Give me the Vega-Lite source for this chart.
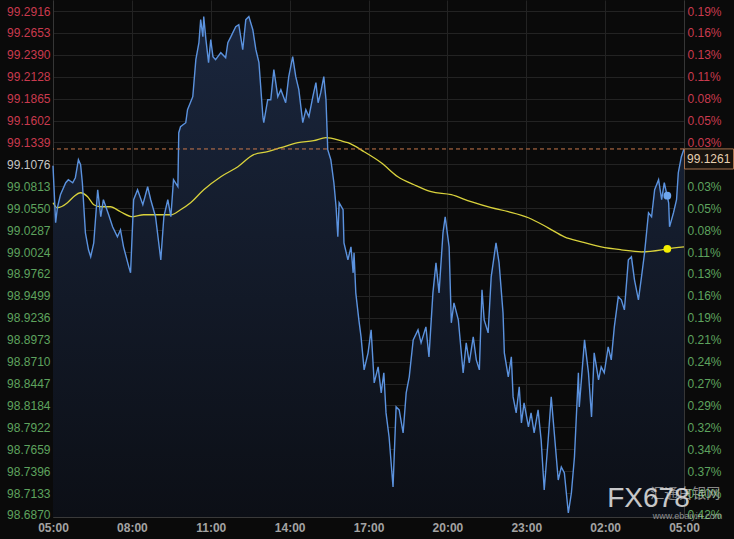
{
  "$schema": "https://vega.github.io/schema/vega-lite/v6.json",
  "width": 631,
  "height": 517,
  "autosize": {"type": "none"},
  "padding": {"left": 53, "top": 0, "right": 50, "bottom": 22},
  "background": "#0a0a0a",
  "config": {
    "view": {"stroke": null},
    "axis": {"labelFont": "Liberation Sans", "labelFontSize": 12, "ticks": false, "domainColor": "#363636", "gridColor": "#232323", "gridWidth": 1, "labelOverlap": false}
  },
  "datasets": {
    "price": [
      {"t":"2024-01-01T05:00Z","v":99.1060},{"t":"2024-01-01T05:06Z","v":99.0376},{"t":"2024-01-01T05:10Z","v":99.0556},{"t":"2024-01-01T05:17Z","v":99.0712},
      {"t":"2024-01-01T05:29Z","v":99.0856},{"t":"2024-01-01T05:35Z","v":99.0892},{"t":"2024-01-01T05:45Z","v":99.0856},{"t":"2024-01-01T05:51Z","v":99.0916},
      {"t":"2024-01-01T05:58Z","v":99.1132},{"t":"2024-01-01T06:03Z","v":99.1072},{"t":"2024-01-01T06:07Z","v":99.0856},{"t":"2024-01-01T06:14Z","v":99.0255},
      {"t":"2024-01-01T06:21Z","v":99.0051},{"t":"2024-01-01T06:26Z","v":98.9967},{"t":"2024-01-01T06:33Z","v":99.0135},{"t":"2024-01-01T06:42Z","v":99.0772},
      {"t":"2024-01-01T06:49Z","v":99.0448},{"t":"2024-01-01T06:55Z","v":99.0652},{"t":"2024-01-01T07:07Z","v":99.0472},{"t":"2024-01-01T07:16Z","v":99.0327},
      {"t":"2024-01-01T07:27Z","v":99.0207},{"t":"2024-01-01T07:34Z","v":99.0291},{"t":"2024-01-01T07:41Z","v":99.0087},{"t":"2024-01-01T07:53Z","v":98.9847},
      {"t":"2024-01-01T07:57Z","v":98.9775},{"t":"2024-01-01T08:04Z","v":99.0652},{"t":"2024-01-01T08:13Z","v":99.0772},{"t":"2024-01-01T08:25Z","v":99.0592},
      {"t":"2024-01-01T08:36Z","v":99.0808},{"t":"2024-01-01T08:43Z","v":99.0652},{"t":"2024-01-01T08:54Z","v":99.0448},{"t":"2024-01-01T09:06Z","v":98.9931},
      {"t":"2024-01-01T09:13Z","v":99.0448},{"t":"2024-01-01T09:22Z","v":99.0652},{"t":"2024-01-01T09:29Z","v":99.0448},{"t":"2024-01-01T09:35Z","v":99.0892},
      {"t":"2024-01-01T09:45Z","v":99.0808},{"t":"2024-01-01T09:47Z","v":99.1456},{"t":"2024-01-01T09:51Z","v":99.1528},{"t":"2024-01-01T10:03Z","v":99.1576},
      {"t":"2024-01-01T10:07Z","v":99.1732},{"t":"2024-01-01T10:19Z","v":99.1888},{"t":"2024-01-01T10:26Z","v":99.2332},{"t":"2024-01-01T10:33Z","v":99.2536},
      {"t":"2024-01-01T10:37Z","v":99.2812},{"t":"2024-01-01T10:42Z","v":99.2608},{"t":"2024-01-01T10:44Z","v":99.2849},{"t":"2024-01-01T10:49Z","v":99.2572},
      {"t":"2024-01-01T10:55Z","v":99.2296},{"t":"2024-01-01T11:00Z","v":99.2572},{"t":"2024-01-01T11:05Z","v":99.2368},{"t":"2024-01-01T11:11Z","v":99.2332},
      {"t":"2024-01-01T11:23Z","v":99.2416},{"t":"2024-01-01T11:34Z","v":99.2356},{"t":"2024-01-01T11:39Z","v":99.2536},{"t":"2024-01-01T11:46Z","v":99.2608},
      {"t":"2024-01-01T11:57Z","v":99.2728},{"t":"2024-01-01T12:04Z","v":99.2752},{"t":"2024-01-01T12:13Z","v":99.2452},{"t":"2024-01-01T12:20Z","v":99.2812},
      {"t":"2024-01-01T12:27Z","v":99.2849},{"t":"2024-01-01T12:36Z","v":99.2692},{"t":"2024-01-01T12:43Z","v":99.2452},{"t":"2024-01-01T12:50Z","v":99.2296},
      {"t":"2024-01-01T12:59Z","v":99.1648},{"t":"2024-01-01T13:01Z","v":99.1576},{"t":"2024-01-01T13:10Z","v":99.1852},{"t":"2024-01-01T13:17Z","v":99.1852},
      {"t":"2024-01-01T13:24Z","v":99.2212},{"t":"2024-01-01T13:33Z","v":99.1888},{"t":"2024-01-01T13:40Z","v":99.1972},{"t":"2024-01-01T13:51Z","v":99.1816},
      {"t":"2024-01-01T13:58Z","v":99.2128},{"t":"2024-01-01T14:07Z","v":99.2368},{"t":"2024-01-01T14:14Z","v":99.2128},{"t":"2024-01-01T14:21Z","v":99.1972},
      {"t":"2024-01-01T14:30Z","v":99.1576},{"t":"2024-01-01T14:37Z","v":99.1732},{"t":"2024-01-01T14:44Z","v":99.1648},{"t":"2024-01-01T14:53Z","v":99.1888},
      {"t":"2024-01-01T15:00Z","v":99.2056},{"t":"2024-01-01T15:05Z","v":99.1816},{"t":"2024-01-01T15:11Z","v":99.1936},{"t":"2024-01-01T15:18Z","v":99.2128},
      {"t":"2024-01-01T15:23Z","v":99.1852},{"t":"2024-01-01T15:27Z","v":99.1252},{"t":"2024-01-01T15:34Z","v":99.1132},{"t":"2024-01-01T15:41Z","v":99.0856},
      {"t":"2024-01-01T15:46Z","v":99.0568},{"t":"2024-01-01T15:50Z","v":99.0207},{"t":"2024-01-01T15:53Z","v":99.0616},{"t":"2024-01-01T16:02Z","v":99.0532},
      {"t":"2024-01-01T16:04Z","v":99.0135},{"t":"2024-01-01T16:13Z","v":98.9931},{"t":"2024-01-01T16:20Z","v":99.0087},{"t":"2024-01-01T16:25Z","v":98.9775},
      {"t":"2024-01-01T16:27Z","v":99.0015},{"t":"2024-01-01T16:31Z","v":98.9535},{"t":"2024-01-01T16:38Z","v":98.9211},{"t":"2024-01-01T16:43Z","v":98.9007},
      {"t":"2024-01-01T16:50Z","v":98.8611},{"t":"2024-01-01T16:59Z","v":98.8815},{"t":"2024-01-01T17:06Z","v":98.9091},{"t":"2024-01-01T17:13Z","v":98.8455},
      {"t":"2024-01-01T17:22Z","v":98.8647},{"t":"2024-01-01T17:29Z","v":98.8335},{"t":"2024-01-01T17:35Z","v":98.8575},{"t":"2024-01-01T17:40Z","v":98.8095},
      {"t":"2024-01-01T17:47Z","v":98.7806},{"t":"2024-01-01T17:56Z","v":98.7206},{"t":"2024-01-01T18:03Z","v":98.8167},{"t":"2024-01-01T18:10Z","v":98.8131},
      {"t":"2024-01-01T18:19Z","v":98.7854},{"t":"2024-01-01T18:26Z","v":98.8335},{"t":"2024-01-01T18:33Z","v":98.8527},{"t":"2024-01-01T18:42Z","v":98.8971},
      {"t":"2024-01-01T18:53Z","v":98.9091},{"t":"2024-01-01T19:00Z","v":98.8935},{"t":"2024-01-01T19:11Z","v":98.9127},{"t":"2024-01-01T19:18Z","v":98.8767},
      {"t":"2024-01-01T19:27Z","v":98.9535},{"t":"2024-01-01T19:34Z","v":98.9895},{"t":"2024-01-01T19:41Z","v":98.9535},{"t":"2024-01-01T19:50Z","v":99.0255},
      {"t":"2024-01-01T19:55Z","v":99.0448},{"t":"2024-01-01T20:04Z","v":99.0087},{"t":"2024-01-01T20:09Z","v":98.9175},{"t":"2024-01-01T20:15Z","v":98.9415},
      {"t":"2024-01-01T20:25Z","v":98.9211},{"t":"2024-01-01T20:36Z","v":98.8575},{"t":"2024-01-01T20:43Z","v":98.8935},{"t":"2024-01-01T20:50Z","v":98.8695},
      {"t":"2024-01-01T20:59Z","v":98.9007},{"t":"2024-01-01T21:06Z","v":98.8731},{"t":"2024-01-01T21:13Z","v":98.8611},{"t":"2024-01-01T21:19Z","v":98.9571},
      {"t":"2024-01-01T21:24Z","v":98.9211},{"t":"2024-01-01T21:33Z","v":98.9055},{"t":"2024-01-01T21:40Z","v":98.9727},{"t":"2024-01-01T21:51Z","v":99.0135},
      {"t":"2024-01-01T21:58Z","v":98.9895},{"t":"2024-01-01T22:07Z","v":98.9295},{"t":"2024-01-01T22:10Z","v":98.8815},{"t":"2024-01-01T22:19Z","v":98.8527},
      {"t":"2024-01-01T22:26Z","v":98.8767},{"t":"2024-01-01T22:30Z","v":98.8287},{"t":"2024-01-01T22:37Z","v":98.8095},{"t":"2024-01-01T22:44Z","v":98.8407},
      {"t":"2024-01-01T22:49Z","v":98.7975},{"t":"2024-01-01T22:55Z","v":98.8215},{"t":"2024-01-01T23:05Z","v":98.7926},{"t":"2024-01-01T23:11Z","v":98.8095},
      {"t":"2024-01-01T23:18Z","v":98.7854},{"t":"2024-01-01T23:27Z","v":98.8131},{"t":"2024-01-01T23:34Z","v":98.7770},{"t":"2024-01-01T23:41Z","v":98.7170},
      {"t":"2024-01-01T23:50Z","v":98.7770},{"t":"2024-01-01T23:57Z","v":98.8287},{"t":"2024-01-02T00:04Z","v":98.7854},{"t":"2024-01-02T00:13Z","v":98.7290},
      {"t":"2024-01-02T00:20Z","v":98.7446},{"t":"2024-01-02T00:27Z","v":98.7374},{"t":"2024-01-02T00:36Z","v":98.6894},{"t":"2024-01-02T00:43Z","v":98.7134},
      {"t":"2024-01-02T00:50Z","v":98.7566},{"t":"2024-01-02T00:59Z","v":98.8575},{"t":"2024-01-02T01:01Z","v":98.8167},{"t":"2024-01-02T01:13Z","v":98.8971},
      {"t":"2024-01-02T01:22Z","v":98.8575},{"t":"2024-01-02T01:29Z","v":98.8047},{"t":"2024-01-02T01:35Z","v":98.8815},{"t":"2024-01-02T01:45Z","v":98.8491},
      {"t":"2024-01-02T01:51Z","v":98.8647},{"t":"2024-01-02T01:58Z","v":98.8575},{"t":"2024-01-02T02:07Z","v":98.8887},{"t":"2024-01-02T02:14Z","v":98.8731},
      {"t":"2024-01-02T02:21Z","v":98.9127},{"t":"2024-01-02T02:30Z","v":98.9487},{"t":"2024-01-02T02:37Z","v":98.9451},{"t":"2024-01-02T02:44Z","v":98.9331},
      {"t":"2024-01-02T02:53Z","v":98.9931},{"t":"2024-01-02T03:00Z","v":98.9967},{"t":"2024-01-02T03:07Z","v":98.9691},{"t":"2024-01-02T03:16Z","v":98.9451},
      {"t":"2024-01-02T03:23Z","v":98.9727},{"t":"2024-01-02T03:30Z","v":99.0015},{"t":"2024-01-02T03:39Z","v":99.0496},{"t":"2024-01-02T03:46Z","v":99.0448},
      {"t":"2024-01-02T03:53Z","v":99.0772},{"t":"2024-01-02T04:02Z","v":99.0892},{"t":"2024-01-02T04:09Z","v":99.0652},{"t":"2024-01-02T04:15Z","v":99.0856},
      {"t":"2024-01-02T04:25Z","v":99.0616},{"t":"2024-01-02T04:27Z","v":99.0327},{"t":"2024-01-02T04:36Z","v":99.0496},{"t":"2024-01-02T04:43Z","v":99.0652},
      {"t":"2024-01-02T04:47Z","v":99.0976},{"t":"2024-01-02T04:54Z","v":99.1168},{"t":"2024-01-02T05:00Z","v":99.1261}
    ],
    "ma": [
      {"t":"2024-01-01T05:00Z","v":99.0616},{"t":"2024-01-01T05:10Z","v":99.0556},{"t":"2024-01-01T05:33Z","v":99.0616},{"t":"2024-01-01T05:47Z","v":99.0688},
      {"t":"2024-01-01T06:03Z","v":99.0736},{"t":"2024-01-01T06:19Z","v":99.0688},{"t":"2024-01-01T06:33Z","v":99.0592},{"t":"2024-01-01T06:49Z","v":99.0568},
      {"t":"2024-01-01T07:11Z","v":99.0568},{"t":"2024-01-01T07:34Z","v":99.0508},{"t":"2024-01-01T08:02Z","v":99.0448},{"t":"2024-01-01T08:27Z","v":99.0472},
      {"t":"2024-01-01T08:59Z","v":99.0472},{"t":"2024-01-01T09:29Z","v":99.0472},{"t":"2024-01-01T09:51Z","v":99.0532},{"t":"2024-01-01T10:14Z","v":99.0616},
      {"t":"2024-01-01T10:44Z","v":99.0772},{"t":"2024-01-01T11:23Z","v":99.0928},{"t":"2024-01-01T12:02Z","v":99.1048},{"t":"2024-01-01T12:38Z","v":99.1192},
      {"t":"2024-01-01T13:10Z","v":99.1228},{"t":"2024-01-01T13:40Z","v":99.1276},{"t":"2024-01-01T14:19Z","v":99.1336},{"t":"2024-01-01T14:55Z","v":99.1360},
      {"t":"2024-01-01T15:23Z","v":99.1396},{"t":"2024-01-01T15:57Z","v":99.1360},{"t":"2024-01-01T16:13Z","v":99.1336},{"t":"2024-01-01T16:50Z","v":99.1228},
      {"t":"2024-01-01T17:29Z","v":99.1096},{"t":"2024-01-01T18:07Z","v":99.0928},{"t":"2024-01-01T18:44Z","v":99.0832},{"t":"2024-01-01T19:23Z","v":99.0748},
      {"t":"2024-01-01T20:09Z","v":99.0712},{"t":"2024-01-01T20:54Z","v":99.0628},{"t":"2024-01-01T21:40Z","v":99.0556},{"t":"2024-01-01T22:19Z","v":99.0508},
      {"t":"2024-01-01T23:05Z","v":99.0436},{"t":"2024-01-01T23:50Z","v":99.0315},{"t":"2024-01-02T00:27Z","v":99.0207},{"t":"2024-01-02T01:06Z","v":99.0147},
      {"t":"2024-01-02T01:51Z","v":99.0087},{"t":"2024-01-02T02:37Z","v":99.0051},{"t":"2024-01-02T03:23Z","v":99.0027},{"t":"2024-01-02T04:09Z","v":99.0051},
      {"t":"2024-01-02T04:22Z","v":99.0063},{"t":"2024-01-02T05:00Z","v":99.0087}
    ],
    "dots": [
      {"t":"2024-01-02T04:22Z","v":99.0700,"s":"price"},
      {"t":"2024-01-02T04:22Z","v":99.0063,"s":"ma"}
    ],
    "last": [
      {"t":"2024-01-02T05:00Z","v":99.1261,"label":"99.1261"}
    ],
    "marks": [
      {"name":"brand"}
    ]
  },
  "layer": [
    {
      "data": {"name": "price"},
      "mark": {"type": "area", "fill": {"gradient": "linear", "x1": 0, "y1": 0, "x2": 0, "y2": 1, "stops": [{"offset": 0, "color": "#1a263d"}, {"offset": 1, "color": "#0c0f16"}]}},
      "encoding": {
        "x": {"field": "t", "type": "temporal", "title": null,
          "scale": {"type": "utc", "domain": [{"year": 2024, "month": 1, "date": 1, "hours": 5, "utc": true}, {"year": 2024, "month": 1, "date": 2, "hours": 5, "utc": true}]},
          "axis": {"values": [
            {"year": 2024, "month": 1, "date": 1, "hours": 5, "utc": true},
            {"year": 2024, "month": 1, "date": 1, "hours": 8, "utc": true},
            {"year": 2024, "month": 1, "date": 1, "hours": 11, "utc": true},
            {"year": 2024, "month": 1, "date": 1, "hours": 14, "utc": true},
            {"year": 2024, "month": 1, "date": 1, "hours": 17, "utc": true},
            {"year": 2024, "month": 1, "date": 1, "hours": 20, "utc": true},
            {"year": 2024, "month": 1, "date": 1, "hours": 23, "utc": true},
            {"year": 2024, "month": 1, "date": 2, "hours": 2, "utc": true},
            {"year": 2024, "month": 1, "date": 2, "hours": 5, "utc": true}],
            "labelExpr": "utcFormat(datum.value, '%H:%M')", "labelFlush": false, "labelColor": "#a3a3a3", "labelFontWeight": "bold", "labelPadding": 5, "grid": true, "domainColor": "#3a3a3a"}},
        "y": {"field": "v", "type": "quantitative", "title": null,
          "scale": {"domain": [98.6846, 99.3048], "zero": false, "nice": false},
          "axis": {"orient": "left", "grid": true, "labelPadding": 3,
            "values": [99.2916, 99.2653, 99.2390, 99.2128, 99.1865, 99.1602, 99.1339, 99.1076, 99.0813, 99.0550, 99.0287, 99.0024, 98.9762, 98.9499, 98.9236, 98.8973, 98.8710, 98.8447, 98.8184, 98.7922, 98.7659, 98.7396, 98.7133, 98.6870],
            "format": ".4f",
            "labelColor": {"condition": [{"test": "abs(datum.value - 99.1076) < 0.0001", "value": "#c4c4c4"}, {"test": "datum.value > 99.1076", "value": "#c93a4e"}], "value": "#5ea35e"}}},
        "y2": {"datum": 98.6846}
      }
    },
    {
      "data": {"name": "ma"},
      "mark": {"type": "line", "color": "#d9d23c", "strokeWidth": 1.3, "interpolate": "monotone"},
      "encoding": {
        "x": {"field": "t", "type": "temporal", "title": null},
        "y": {"field": "v", "type": "quantitative", "title": null, "axis": null}
      }
    },
    {
      "data": {"name": "price"},
      "mark": {"type": "line", "color": "#5b92de", "strokeWidth": 1.4},
      "encoding": {
        "x": {"field": "t", "type": "temporal", "title": null},
        "y": {"field": "v", "type": "quantitative", "title": null, "axis": null}
      }
    },
    {
      "data": {"name": "last"},
      "mark": {"type": "rule", "color": "#c8784c", "strokeDash": [4, 3], "strokeWidth": 1},
      "encoding": {
        "y": {"field": "v", "type": "quantitative", "title": null,
          "axis": {"orient": "right", "grid": false, "labelPadding": 3, "domainColor": "#363636",
            "values": [99.2916, 99.2653, 99.2390, 99.2128, 99.1865, 99.1602, 99.1339, 99.0813, 99.0550, 99.0287, 99.0024, 98.9762, 98.9499, 98.9236, 98.8973, 98.8710, 98.8447, 98.8184, 98.7922, 98.7659, 98.7396, 98.7133, 98.6870],
            "labelExpr": "format(abs(datum.value / 99.1076 - 1) * 100, '.2f') + '%'",
            "labelColor": {"condition": {"test": "datum.value > 99.1076", "value": "#c93a4e"}, "value": "#5ea35e"}}}
      }
    },
    {
      "data": {"name": "dots"},
      "mark": {"type": "point", "filled": true, "opacity": 1, "size": 60},
      "encoding": {
        "x": {"field": "t", "type": "temporal", "title": null},
        "y": {"field": "v", "type": "quantitative", "title": null, "axis": null},
        "color": {"field": "s", "type": "nominal", "scale": {"domain": ["price", "ma"], "range": ["#6ea6ee", "#f4ee00"]}, "legend": null}
      }
    },
    {
      "data": {"name": "last"},
      "mark": {"type": "point", "shape": "M-1,-0.41H1V0.41H-1Z", "size": 2401, "filled": true, "fill": "#17120e", "stroke": "#a8734e", "strokeWidth": 1, "opacity": 1, "xOffset": 25, "yOffset": 10},
      "encoding": {
        "x": {"field": "t", "type": "temporal", "title": null},
        "y": {"field": "v", "type": "quantitative", "title": null, "axis": null}
      }
    },
    {
      "data": {"name": "last"},
      "mark": {"type": "text", "align": "left", "baseline": "middle", "dx": 3, "yOffset": 10, "font": "Liberation Sans", "fontSize": 12, "color": "#e6cfb0"},
      "encoding": {
        "x": {"field": "t", "type": "temporal", "title": null},
        "y": {"field": "v", "type": "quantitative", "title": null, "axis": null},
        "text": {"field": "label"}
      }
    },
    {
      "data": {"name": "marks"},
      "mark": {"type": "text", "text": "FX678", "align": "center", "baseline": "alphabetic", "font": "Liberation Sans", "fontSize": 28, "color": "#e8e8e8", "opacity": 0.85},
      "encoding": {
        "x": {"datum": {"year": 2024, "month": 1, "date": 2, "hours": 3, "minutes": 39, "utc": true}, "type": "temporal"},
        "y": {"datum": 98.6966, "type": "quantitative", "axis": null}
      }
    },
    {
      "data": {"name": "marks"},
      "mark": {"type": "text", "text": "汇通白银网", "align": "center", "baseline": "middle", "font": "Noto Sans CJK SC", "fontSize": 14, "color": "#dddddd", "opacity": 0.6},
      "encoding": {
        "x": {"datum": {"year": 2024, "month": 1, "date": 2, "hours": 5, "minutes": 3, "utc": true}, "type": "temporal"},
        "y": {"datum": 98.7122, "type": "quantitative", "axis": null}
      }
    },
    {
      "data": {"name": "marks"},
      "mark": {"type": "text", "text": "www.ebaiyin.com", "align": "center", "baseline": "alphabetic", "font": "Liberation Sans", "fontSize": 9, "color": "#dddddd", "opacity": 0.6},
      "encoding": {
        "x": {"datum": {"year": 2024, "month": 1, "date": 2, "hours": 5, "minutes": 8, "utc": true}, "type": "temporal"},
        "y": {"datum": 98.6822, "type": "quantitative", "axis": null}
      }
    }
  ],
  "resolve": {"axis": {"y": "independent"}}
}
